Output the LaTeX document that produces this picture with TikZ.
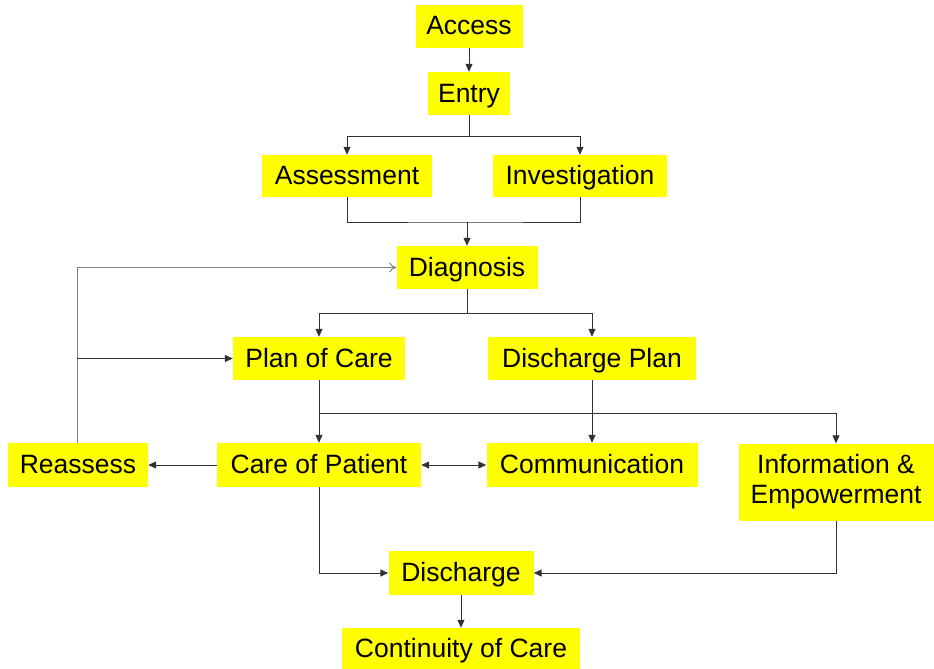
\documentclass[tikz,border=0pt]{standalone}
\usepackage{fontspec}
\setmainfont{Liberation Sans}
\usetikzlibrary{arrows.meta}
\definecolor{boxyellow}{RGB}{255,255,0}
\definecolor{linegray}{RGB}{50,50,50}
\begin{document}
\begin{tikzpicture}[x=1pt,y=-1pt,
  box/.style={fill=boxyellow, inner sep=0pt, align=center, text height=21pt, text depth=4pt, font=\fontsize{26.5}{30}\selectfont},
  conn/.style={draw=linegray, line width=1pt},
  arr/.style={conn, -{Triangle[length=8pt,width=7pt]}},
  darr/.style={conn, {Triangle[length=8pt,width=7pt]}-{Triangle[length=8pt,width=7pt]}},
  openarr/.style={draw=gray, line width=1pt, -{To[length=7pt,width=10pt]}}]
\useasboundingbox (0,0) rectangle (934,669);
\node[box, minimum width=107pt, minimum height=43pt] (access) at (469,26.5) {Access};
\node[box, minimum width=82pt, minimum height=43pt] (entry) at (469,93.5) {Entry};
\node[box, minimum width=170pt, minimum height=42pt] (assess) at (347,176) {Assessment};
\node[box, minimum width=174pt, minimum height=42pt] (invest) at (580,176) {Investigation};
\node[box, minimum width=141pt, minimum height=43pt] (diag) at (467,267.5) {Diagnosis};
\node[box, minimum width=172pt, minimum height=43pt] (plan) at (319,358.5) {Plan of Care};
\node[box, minimum width=208pt, minimum height=43pt] (dplan) at (592,358.5) {Discharge Plan};
\node[box, minimum width=140pt, minimum height=44pt] (reassess) at (78,465) {Reassess};
\node[box, minimum width=204pt, minimum height=44pt] (care) at (319,465) {Care of Patient};
\node[box, minimum width=211pt, minimum height=44pt] (comm) at (592,465) {Communication};
\node[box, minimum width=195pt, minimum height=77pt, text height=, text depth=] (info) at (836,482) {Information \&\\Empowerment};
\node[box, minimum width=145pt, minimum height=44pt] (disch) at (461,573) {Discharge};
\node[box, minimum width=238pt, minimum height=42pt] (cont) at (461,649) {Continuity of Care};
% connectors
\draw[arr] (access.south) -- (entry.north);
\coordinate (e1) at (469,136);
\draw[conn] (entry.south) -- (e1);
\draw[arr] (e1) -| (assess.north);
\draw[arr] (e1) -| (invest.north);
\coordinate (a1) at (467,222);
\draw[conn] (assess.south) |- (a1) -| (invest.south);
\draw[arr] (a1) -- (diag.north);
\coordinate (d1) at (467,313);
\draw[conn] (diag.south) -- (d1);
\draw[arr] (d1) -| (plan.north);
\draw[arr] (d1) -| (dplan.north);
\coordinate (r1) at (77,267.5);
\coordinate (r2) at (77,358.5);
\draw[openarr] (reassess.north -| r1) -- (r1) -- (r1 -| diag.west);
\draw[arr] (r2) -- (r2 -| plan.west);
\draw[arr] (plan.south) -- (care.north);
\coordinate (p1) at (319,413);
\draw[arr] (p1) -| (info.north);
\draw[arr] (dplan.south) -- (comm.north);
\draw[arr] (care.west) -- (reassess.east);
\draw[darr] (care.east) -- (comm.west);
\draw[arr] (care.south) |- (disch.west);
\draw[arr] (info.south) |- (disch.east);
\draw[arr] (disch.south) -- (cont.north);
\end{tikzpicture}
\end{document}
